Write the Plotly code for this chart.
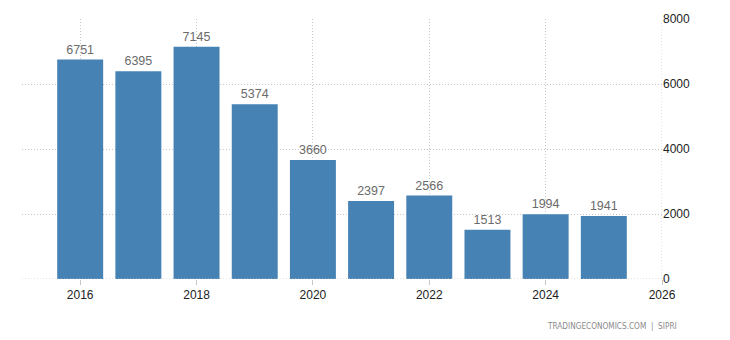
import plotly.graph_objects as go

years = [2016, 2017, 2018, 2019, 2020, 2021, 2022, 2023, 2024, 2025]
values = [6751, 6395, 7145, 5374, 3660, 2397, 2566, 1513, 1994, 1941]
x_ticks = [2016, 2018, 2020, 2022, 2024, 2026]
y_ticks = [0, 2000, 4000, 6000, 8000]

GRID = "#c8c8c8"
DOT = "1px,2px"

fig = go.Figure()
fig.add_trace(go.Bar(
    x=years, y=values, width=0.79,
    marker=dict(color="#4682B4", line=dict(width=0)),
    text=[str(v) for v in values], textposition="outside",
    textfont=dict(family="Liberation Sans, Arial, sans-serif", size=12.5, color="#6b6b6b"),
    cliponaxis=False,
))

fig.update_layout(
    width=730, height=340,
    margin=dict(l=22, r=68, t=19, b=61),
    paper_bgcolor="white", plot_bgcolor="white",
    showlegend=False,
    font=dict(family="Liberation Sans, Arial, sans-serif", size=12, color="#222222"),
    xaxis=dict(
        range=[2015, 2026], tickvals=x_ticks, ticktext=[str(t) for t in x_ticks],
        showgrid=True, gridcolor=GRID, griddash=DOT, gridwidth=1,
        ticks="outside", ticklen=5, tickcolor=GRID,
        showline=False, zeroline=False,
        tickfont=dict(size=12, color="#222222"),
    ),
    yaxis=dict(
        range=[0, 8000], tickvals=y_ticks, side="right",
        showgrid=True, gridcolor=GRID, griddash=DOT, gridwidth=1,
        zeroline=False, showline=False, ticks="",
        tickfont=dict(size=12, color="#222222"),
    ),
    annotations=[dict(
        text="TRADINGECONOMICS.COM  |  SIPRI", xref="paper", yref="paper",
        x=1.027, y=-0.18, xanchor="right", yanchor="middle", showarrow=False,
        font=dict(family="Liberation Sans Narrow, DejaVu Sans Condensed, Arial Narrow, sans-serif",
                  size=8.2, color="#8a8a8a"),
    )],
)
fig.add_shape(type="line", xref="x", yref="paper", x0=2026, x1=2026, y0=0, y1=1,
              line=dict(color=GRID, width=1, dash=DOT))
fig.add_shape(type="line", xref="paper", yref="y", x0=0, x1=1, y0=0, y1=0,
              line=dict(color=GRID, width=1, dash=DOT))

fig.write_html("out.html")
